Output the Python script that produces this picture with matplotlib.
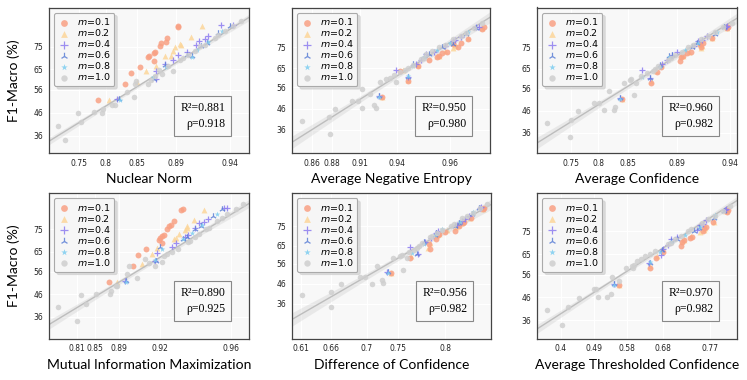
import numpy as np
import matplotlib
matplotlib.use("Agg")
import matplotlib.pyplot as plt

# F1-Macro (%) per model, grouped by m
y_m01 = [51.4, 58.8, 63.5, 66.0, 68.7, 70.4, 71.0, 72.2, 72.5, 75.1, 76.4, 76.9, 78.9, 83.6, 84.2]
y_m02 = [51.4, 59.7, 64.1, 66.6, 70.7, 71.0, 72.9, 74.7, 75.5, 76.3, 79.2, 83.8]
y_m04 = [51.9, 60.9, 64.4, 67.2, 69.0, 71.5, 72.5, 75.5, 77.6, 78.4, 79.8, 84.3, 84.6]
y_m06 = [51.9, 61.0, 66.9, 70.7, 71.5, 75.1, 76.6, 81.0, 83.9]
y_m08 = [51.5, 61.5, 66.0, 70.5, 73.5, 77.0, 82.0]
y_m10 = [34.1, 40.4, 41.9, 45.8, 46.1, 46.3, 47.7, 49.5, 49.5, 53.1, 55.1, 58.7, 58.7, 60.0, 60.3,
         61.9, 63.0, 64.1, 64.9, 66.3, 69.3, 70.0, 71.5, 72.9, 75.1, 75.8, 78.8, 80.2, 81.7, 83.9, 86.1]

# Nuclear Norm
nn_m01 = [.786, .830, .840, .853, .867, .861, .862, .867, .868, .874, .875, .880, .881, .892, .892]
nn_m02 = [.805, .850, .859, .869, .879, .885, .887, .889, .895, .894, .904, .914]
nn_m04 = [.818, .869, .869, .879, .887, .892, .900, .909, .911, .917, .920, .932, .943]
nn_m06 = [.821, .867, .879, .905, .900, .913, .919, .929, .940]
nn_m08 = [.822, .866, .880, .905, .910, .920, .933]
nn_m10 = [.725, .711, .754, .749, .793, .777, .794, .809, .814, .845, .834, .847, .861, .848, .864,
          .868, .876, .887, .873, .882, .894, .897, .901, .908, .912, .917, .926, .929, .935, .943, .950]

# Average Negative Entropy
ane_m01 = [.928, .944, .941, .948, .952, .955, .956, .957, .959, .963, .961, .964, .967, .972, .973]
ane_m02 = [.928, .944, .942, .948, .955, .956, .958, .961, .962, .962, .967, .972]
ane_m04 = [.925, .944, .939, .947, .949, .951, .954, .958, .961, .962, .964, .970, .971]
ane_m06 = [.925, .944, .946, .950, .952, .957, .961, .966, .970]
ane_m08 = [.925, .944, .946, .950, .955, .960, .967]
ane_m10 = [.878, .849, .877, .884, .912, .923, .921, .901, .908, .918, .912, .926, .939, .931, .934,
           .937, .941, .943, .944, .946, .949, .950, .951, .953, .956, .958, .961, .964, .966, .969, .972]

# Average Confidence
ac_m01 = [.841, .869, .874, .877, .893, .894, .896, .900, .903, .913, .912, .915, .923, .937, .938]
ac_m02 = [.841, .869, .873, .877, .894, .896, .902, .913, .914, .912, .923, .937]
ac_m04 = [.837, .868, .862, .878, .882, .886, .890, .906, .910, .914, .918, .936, .937]
ac_m06 = [.837, .868, .876, .884, .886, .904, .909, .926, .934]
ac_m08 = [.837, .862, .876, .884, .898, .910, .928]
ac_m10 = [.749, .707, .750, .764, .809, .827, .828, .793, .801, .855, .818, .844, .857, .852, .853,
          .861, .866, .871, .872, .875, .883, .885, .889, .895, .901, .905, .913, .919, .926, .933, .942]

# Mutual Information Maximization
mim_m01 = [.873, .900, .904, .910, .921, .919, .920, .921, .922, .924, .925, .926, .928, .932, .933]
mim_m02 = [.887, .907, .914, .918, .928, .929, .931, .934, .935, .935, .939, .945]
mim_m04 = [.894, .916, .918, .927, .929, .934, .936, .940, .942, .945, .947, .956, .958]
mim_m06 = [.895, .917, .920, .933, .935, .940, .943, .950, .955]
mim_m08 = [.895, .916, .921, .933, .938, .944, .952]
mim_m10 = [.811, .769, .830, .820, .851, .875, .877, .884, .887, .903, .896, .897, .916, .912, .921,
           .909, .922, .924, .927, .930, .936, .937, .940, .942, .946, .948, .952, .955, .958, .963, .967]

# Difference of Confidence
doc_m01 = [.739, .763, .784, .783, .791, .793, .794, .800, .811, .815, .819, .820, .828, .840, .841]
doc_m02 = [.739, .764, .782, .784, .792, .794, .802, .812, .814, .817, .826, .840]
doc_m04 = [.733, .771, .763, .779, .785, .790, .793, .813, .818, .821, .825, .837, .838]
doc_m06 = [.734, .770, .778, .789, .791, .811, .815, .829, .836]
doc_m08 = [.734, .765, .778, .789, .797, .816, .830]
doc_m10 = [.660, .611, .660, .671, .708, .726, .724, .692, .698, .756, .717, .743, .760, .752, .755,
           .762, .767, .770, .772, .776, .784, .786, .792, .797, .806, .809, .818, .823, .830, .837, .844]

# Average Thresholded Confidence
atc_m01 = [.559, .644, .660, .678, .714, .716, .719, .731, .735, .757, .759, .762, .776, .802, .804]
atc_m02 = [.559, .645, .662, .679, .716, .719, .733, .750, .758, .760, .778, .801]
atc_m04 = [.546, .640, .674, .680, .690, .695, .707, .744, .750, .756, .762, .798, .800]
atc_m06 = [.546, .644, .676, .694, .706, .740, .748, .778, .797]
atc_m08 = [.546, .645, .670, .694, .722, .750, .780]
atc_m10 = [.402, .361, .420, .450, .500, .525, .536, .491, .495, .559, .540, .578, .596, .594, .600,
           .607, .619, .630, .644, .657, .690, .695, .703, .715, .728, .734, .754, .767, .780, .795, .808]

titles = ["Nuclear Norm", "Average Negative Entropy", "Average Confidence",
          "Mutual Information Maximization", "Difference of Confidence", "Average Thresholded Confidence"]
r2_vals = ["0.881", "0.950", "0.960", "0.890", "0.956", "0.970"]
rho_vals = ["0.918", "0.980", "0.982", "0.925", "0.982", "0.982"]
xtick_vals = [[0.75, 0.8, 0.85, 0.89, 0.94], [0.86, 0.88, 0.91, 0.94, 0.96], [0.75, 0.8, 0.85, 0.89, 0.94],
              [0.81, 0.85, 0.89, 0.92, 0.96], [0.61, 0.66, 0.7, 0.75, 0.8], [0.4, 0.49, 0.58, 0.68, 0.77]]
ytick_vals = [36, 46, 56, 65, 75]
m_labels = ["0.1", "0.2", "0.4", "0.6", "0.8", "1.0"]
y_groups = [y_m01, y_m02, y_m04, y_m06, y_m08, y_m10]
x_groups = [
    [nn_m01, nn_m02, nn_m04, nn_m06, nn_m08, nn_m10],
    [ane_m01, ane_m02, ane_m04, ane_m06, ane_m08, ane_m10],
    [ac_m01, ac_m02, ac_m04, ac_m06, ac_m08, ac_m10],
    [mim_m01, mim_m02, mim_m04, mim_m06, mim_m08, mim_m10],
    [doc_m01, doc_m02, doc_m04, doc_m06, doc_m08, doc_m10],
    [atc_m01, atc_m02, atc_m04, atc_m06, atc_m08, atc_m10],
]

# where the x ticks sit along each axis (pixels from the left spine) -> uneven x scale
knot_pos = [[30, 57, 88.3, 126.7, 181], [20.3, 39.7, 68, 105.3, 158], [33.7, 61.3, 90.7, 139.7, 193],
            [27.7, 46, 70.3, 111, 181.7], [9, 38.7, 74.7, 105.7, 153], [24, 57, 89.7, 126.3, 173]]
ylims = [(28.4, 92.1), (25.1, 93.6), (26.7, 93.0), (26.3, 91.2), (18.5, 91.6), (28.0, 91.8)]
boxes = [(49, 7.5, 200), (292, 7.5, 198), (537, 7.5, 200),
         (49, 193, 200), (292, 193, 199), (537, 193, 200)]

colors = ["#f9a184", "#fcd69a", "#8c7cf0", "#5b7fd6", "#7dcdf0", "#cfcfcf"]
markers = ["o", "^", "+", "2", "*", "o"]
sizes = [18, 18, 20, 22, 18, 16]
zords = [3, 2, 3, 3, 3, 3]


def make_scale(vals, pos):
    vals = np.asarray(vals, float)
    pos = np.asarray(pos, float)

    def interp(x, a, b):
        x = np.asarray(x, float)
        out = np.interp(x, a, b)
        lo_s = (b[1] - b[0]) / (a[1] - a[0])
        hi_s = (b[-1] - b[-2]) / (a[-1] - a[-2])
        out = np.where(x < a[0], b[0] + (x - a[0]) * lo_s, out)
        out = np.where(x > a[-1], b[-1] + (x - a[-1]) * hi_s, out)
        return out

    return (lambda x: interp(x, vals, pos)), (lambda u: interp(u, pos, vals))


W, H = 747, 380
fig = plt.figure(figsize=(W / 100, H / 100), dpi=100)

for i in range(6):
    left, top, width = boxes[i]
    ax = fig.add_axes([left / W, 1 - (top + 145.5) / H, width / W, 145.5 / H])
    fwd, inv = make_scale(xtick_vals[i], knot_pos[i])
    ax.set_xscale("function", functions=(fwd, inv))
    ax.set_facecolor("#f8f8f8")
    ax.grid(color="white", lw=0.9)
    ax.set_axisbelow(True)
    for s in ax.spines.values():
        s.set_color("#444444")
        s.set_linewidth(0.9)

    for k in range(6):
        ax.scatter(x_groups[i][k], y_groups[k], s=sizes[k], marker=markers[k], color=colors[k],
                   alpha=0.85, linewidths=0.9 if markers[k] in "+2" else 0,
                   label="$m$=" + m_labels[k], zorder=zords[k])

    # trend line fitted on the m=1.0 runs, straight in the axis' own scale, with 95% band
    u = fwd(x_groups[i][5])
    yv = np.array(y_groups[5])
    b1, b0 = np.polyfit(u, yv, 1)
    ug = np.linspace(0, width, 100)
    yhat = b0 + b1 * ug
    res = yv - (b0 + b1 * u)
    sd = np.sqrt(np.sum(res ** 2) / (len(u) - 2))
    se = sd * np.sqrt(1 / len(u) + (ug - u.mean()) ** 2 / np.sum((u - u.mean()) ** 2))
    xg = inv(ug)
    ax.fill_between(xg, yhat - 1.97 * se, yhat + 1.97 * se, color="#bbbbbb", alpha=0.25, lw=0, zorder=2)
    ax.plot(xg, yhat, color="#bdbdbd", lw=1.0, zorder=2.5)

    ax.set_xlim(inv(0), inv(width))
    ax.set_ylim(*ylims[i])
    ax.set_xticks(xtick_vals[i])
    ax.set_xticklabels([str(v) for v in xtick_vals[i]])
    ax.set_yticks(ytick_vals)
    ax.set_yticklabels([str(v) for v in ytick_vals])
    ax.tick_params(length=0, labelsize=5.5, pad=4, labelcolor="#222222")

    ax.set_xlabel(titles[i], fontsize=10, family="Lato", labelpad=4)
    if i % 3 == 0:
        ax.set_ylabel("F1-Macro (%)", fontsize=10, family="Lato", labelpad=10)

    leg = ax.legend(loc="upper left", fontsize=6.8, labelspacing=0.0, handletextpad=0.7,
                    borderpad=0.4, handlelength=1.3, borderaxespad=0.55, framealpha=1,
                    markerscale=1.15, fancybox=True, shadow={"color": "#d0d0d0", "alpha": 0.7})
    leg.get_frame().set_edgecolor("#aaaaaa")
    leg.get_frame().set_facecolor("#f6f6f6")
    leg.get_frame().set_linewidth(0.8)

    ax.text(0.88, 0.16, "R\u00b2=" + r2_vals[i] + "\n\u03c1=" + rho_vals[i], transform=ax.transAxes,
            ha="right", va="bottom", multialignment="right", family="Liberation Serif", fontsize=8.5,
            linespacing=1.45, zorder=5,
            bbox=dict(boxstyle="square,pad=0.5", fc="#f9f9f9", ec="#888888", lw=0.8))

fig.savefig("out.png", dpi=100)
